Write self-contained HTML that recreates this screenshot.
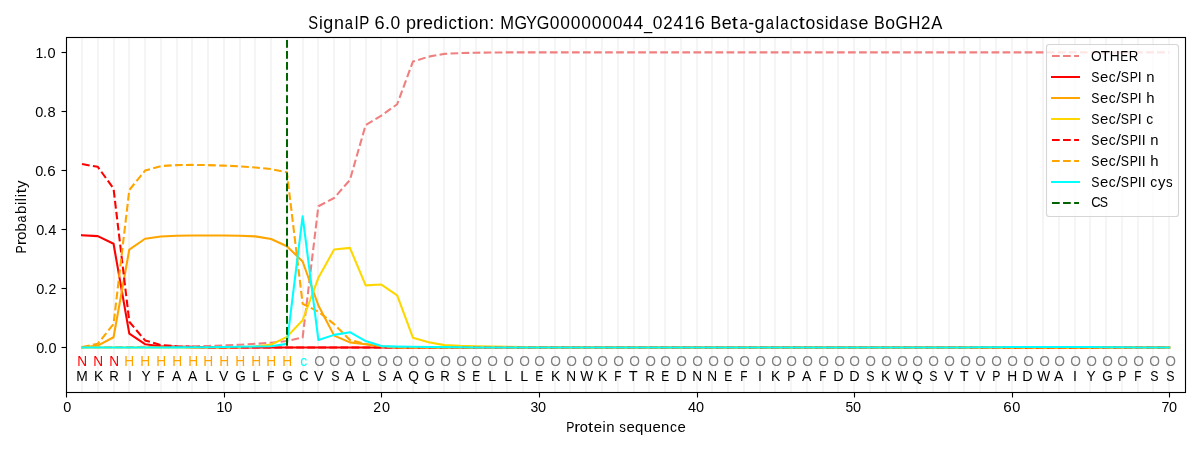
<!DOCTYPE html>
<html><head><meta charset="utf-8"><title>SignalP 6.0 prediction</title>
<style>html,body{margin:0;padding:0;background:#fff}body{width:1200px;height:450px;overflow:hidden;font-family:"Liberation Sans",sans-serif}</style>
</head><body>
<svg width="1200" height="450" viewBox="0 0 1200 450" style="display:block;will-change:transform">
<rect width="1200" height="450" fill="#fff"/>
<g fill="#f5f5f5">
<rect x="81" y="38" width="2" height="354"/>
<rect x="97" y="38" width="2" height="354"/>
<rect x="113" y="38" width="2" height="354"/>
<rect x="128" y="38" width="2" height="354"/>
<rect x="144" y="38" width="2" height="354"/>
<rect x="160" y="38" width="2" height="354"/>
<rect x="176" y="38" width="2" height="354"/>
<rect x="191" y="38" width="2" height="354"/>
<rect x="207" y="38" width="2" height="354"/>
<rect x="223" y="38" width="2" height="354"/>
<rect x="239" y="38" width="2" height="354"/>
<rect x="254" y="38" width="2" height="354"/>
<rect x="270" y="38" width="2" height="354"/>
<rect x="286" y="38" width="2" height="354"/>
<rect x="302" y="38" width="2" height="354"/>
<rect x="317" y="38" width="2" height="354"/>
<rect x="333" y="38" width="2" height="354"/>
<rect x="349" y="38" width="2" height="354"/>
<rect x="365" y="38" width="2" height="354"/>
<rect x="380" y="38" width="2" height="354"/>
<rect x="396" y="38" width="2" height="354"/>
<rect x="412" y="38" width="2" height="354"/>
<rect x="428" y="38" width="2" height="354"/>
<rect x="443" y="38" width="2" height="354"/>
<rect x="459" y="38" width="2" height="354"/>
<rect x="475" y="38" width="2" height="354"/>
<rect x="491" y="38" width="2" height="354"/>
<rect x="506" y="38" width="2" height="354"/>
<rect x="522" y="38" width="2" height="354"/>
<rect x="538" y="38" width="2" height="354"/>
<rect x="554" y="38" width="2" height="354"/>
<rect x="569" y="38" width="2" height="354"/>
<rect x="585" y="38" width="2" height="354"/>
<rect x="601" y="38" width="2" height="354"/>
<rect x="617" y="38" width="2" height="354"/>
<rect x="633" y="38" width="2" height="354"/>
<rect x="648" y="38" width="2" height="354"/>
<rect x="664" y="38" width="2" height="354"/>
<rect x="680" y="38" width="2" height="354"/>
<rect x="696" y="38" width="2" height="354"/>
<rect x="711" y="38" width="2" height="354"/>
<rect x="727" y="38" width="2" height="354"/>
<rect x="743" y="38" width="2" height="354"/>
<rect x="759" y="38" width="2" height="354"/>
<rect x="774" y="38" width="2" height="354"/>
<rect x="790" y="38" width="2" height="354"/>
<rect x="806" y="38" width="2" height="354"/>
<rect x="822" y="38" width="2" height="354"/>
<rect x="837" y="38" width="2" height="354"/>
<rect x="853" y="38" width="2" height="354"/>
<rect x="869" y="38" width="2" height="354"/>
<rect x="885" y="38" width="2" height="354"/>
<rect x="900" y="38" width="2" height="354"/>
<rect x="916" y="38" width="2" height="354"/>
<rect x="932" y="38" width="2" height="354"/>
<rect x="948" y="38" width="2" height="354"/>
<rect x="963" y="38" width="2" height="354"/>
<rect x="979" y="38" width="2" height="354"/>
<rect x="995" y="38" width="2" height="354"/>
<rect x="1011" y="38" width="2" height="354"/>
<rect x="1026" y="38" width="2" height="354"/>
<rect x="1042" y="38" width="2" height="354"/>
<rect x="1058" y="38" width="2" height="354"/>
<rect x="1074" y="38" width="2" height="354"/>
<rect x="1089" y="38" width="2" height="354"/>
<rect x="1105" y="38" width="2" height="354"/>
<rect x="1121" y="38" width="2" height="354"/>
<rect x="1137" y="38" width="2" height="354"/>
<rect x="1152" y="38" width="2" height="354"/>
<rect x="1168" y="38" width="2" height="354"/>
</g>
<polyline points="82.03,347.28 97.79,347.28 113.55,347.13 129.30,347.13 145.06,346.83 160.82,346.83 176.57,346.54 192.33,346.24 208.09,345.95 223.84,345.36 239.60,344.77 255.36,343.82 271.11,342.70 286.87,341.07 302.63,337.53 318.38,206.26 334.14,197.99 349.90,179.97 365.65,125.04 381.41,115.59 397.17,104.22 412.92,61.61 428.68,56.62 444.44,53.87 460.19,53.10 475.95,52.69 491.71,52.54 507.46,52.39 523.22,52.39 538.98,52.39 554.73,52.39 570.49,52.39 586.25,52.39 602.00,52.39 617.76,52.39 633.52,52.39 649.27,52.39 665.03,52.39 680.79,52.39 696.54,52.39 712.30,52.39 728.06,52.39 743.81,52.39 759.57,52.39 775.33,52.39 791.08,52.39 806.84,52.39 822.60,52.39 838.35,52.39 854.11,52.39 869.87,52.39 885.62,52.39 901.38,52.39 917.14,52.39 932.89,52.39 948.65,52.39 964.41,52.39 980.16,52.39 995.92,52.39 1011.68,52.39 1027.43,52.39 1043.19,52.39 1058.95,52.39 1074.70,52.39 1090.46,52.39 1106.22,52.39 1121.97,52.39 1137.73,52.39 1153.49,52.39 1169.24,52.39" fill="none" stroke="#f08080" stroke-width="2.0833" stroke-linejoin="round" stroke-dasharray="7.708 3.333"/>
<polyline points="82.03,235.20 97.79,236.09 113.55,243.76 129.30,333.69 145.06,344.18 160.82,346.24 176.57,346.83 192.33,347.42 208.09,347.42 223.84,347.42 239.60,347.42 255.36,347.42 271.11,347.42 286.87,347.42 302.63,347.42 318.38,347.42 334.14,347.42 349.90,347.42 365.65,347.42 381.41,347.42 397.17,347.42 412.92,347.42 428.68,347.42 444.44,347.42 460.19,347.42 475.95,347.42 491.71,347.42 507.46,347.42 523.22,347.42 538.98,347.42 554.73,347.42 570.49,347.42 586.25,347.42 602.00,347.42 617.76,347.42 633.52,347.42 649.27,347.42 665.03,347.42 680.79,347.42 696.54,347.42 712.30,347.42 728.06,347.42 743.81,347.42 759.57,347.42 775.33,347.42 791.08,347.42 806.84,347.42 822.60,347.42 838.35,347.42 854.11,347.42 869.87,347.42 885.62,347.42 901.38,347.42 917.14,347.42 932.89,347.42 948.65,347.42 964.41,347.42 980.16,347.42 995.92,347.42 1011.68,347.42 1027.43,347.42 1043.19,347.42 1058.95,347.42 1074.70,347.42 1090.46,347.42 1106.22,347.42 1121.97,347.42 1137.73,347.42 1153.49,347.42 1169.24,347.42" fill="none" stroke="#ff0000" stroke-width="2.0833" stroke-linejoin="round" stroke-linecap="square"/>
<polyline points="82.03,347.42 97.79,345.65 113.55,337.21 129.30,249.52 145.06,238.74 160.82,236.47 176.57,235.79 192.33,235.50 208.09,235.50 223.84,235.50 239.60,235.79 255.36,236.38 271.11,239.04 286.87,246.25 302.63,261.48 318.38,305.49 334.14,335.61 349.90,342.40 365.65,344.32 381.41,346.54 397.17,347.42 412.92,347.42 428.68,347.42 444.44,347.42 460.19,347.42 475.95,347.42 491.71,347.42 507.46,347.42 523.22,347.42 538.98,347.42 554.73,347.42 570.49,347.42 586.25,347.42 602.00,347.42 617.76,347.42 633.52,347.42 649.27,347.42 665.03,347.42 680.79,347.42 696.54,347.42 712.30,347.42 728.06,347.42 743.81,347.42 759.57,347.42 775.33,347.42 791.08,347.42 806.84,347.42 822.60,347.42 838.35,347.42 854.11,347.42 869.87,347.42 885.62,347.42 901.38,347.42 917.14,347.42 932.89,347.42 948.65,347.42 964.41,347.42 980.16,347.42 995.92,347.42 1011.68,347.42 1027.43,347.42 1043.19,347.42 1058.95,347.42 1074.70,347.42 1090.46,347.42 1106.22,347.42 1121.97,347.42 1137.73,347.42 1153.49,347.42 1169.24,347.42" fill="none" stroke="#ffa500" stroke-width="2.0833" stroke-linejoin="round" stroke-linecap="square"/>
<polyline points="82.03,347.42 97.79,347.42 113.55,347.42 129.30,347.42 145.06,347.42 160.82,347.42 176.57,347.42 192.33,347.42 208.09,347.42 223.84,347.42 239.60,347.13 255.36,346.54 271.11,344.62 286.87,336.88 302.63,320.25 318.38,277.82 334.14,249.52 349.90,247.90 365.65,285.41 381.41,284.58 397.17,295.45 412.92,337.68 428.68,342.23 444.44,345.12 460.19,345.89 475.95,346.30 491.71,346.63 507.46,346.89 523.22,347.13 538.98,347.28 554.73,347.42 570.49,347.42 586.25,347.42 602.00,347.42 617.76,347.42 633.52,347.42 649.27,347.42 665.03,347.42 680.79,347.42 696.54,347.42 712.30,347.42 728.06,347.42 743.81,347.42 759.57,347.42 775.33,347.42 791.08,347.42 806.84,347.42 822.60,347.42 838.35,347.42 854.11,347.42 869.87,347.42 885.62,347.42 901.38,347.42 917.14,347.42 932.89,347.42 948.65,347.42 964.41,347.42 980.16,347.42 995.92,347.42 1011.68,347.42 1027.43,347.42 1043.19,347.42 1058.95,347.42 1074.70,347.42 1090.46,347.42 1106.22,347.42 1121.97,347.42 1137.73,347.42 1153.49,347.42 1169.24,347.42" fill="none" stroke="#ffd700" stroke-width="2.0833" stroke-linejoin="round" stroke-linecap="square"/>
<polyline points="82.03,164.09 97.79,166.83 113.55,188.63 129.30,321.73 145.06,340.45 160.82,345.06 176.57,346.24 192.33,346.83 208.09,347.42 223.84,347.42 239.60,347.42 255.36,347.42 271.11,347.42 286.87,347.42 302.63,347.42 318.38,347.42 334.14,347.42 349.90,347.42 365.65,347.42 381.41,347.42 397.17,347.42 412.92,347.42 428.68,347.42 444.44,347.42 460.19,347.42 475.95,347.42 491.71,347.42 507.46,347.42 523.22,347.42 538.98,347.42 554.73,347.42 570.49,347.42 586.25,347.42 602.00,347.42 617.76,347.42 633.52,347.42 649.27,347.42 665.03,347.42 680.79,347.42 696.54,347.42 712.30,347.42 728.06,347.42 743.81,347.42 759.57,347.42 775.33,347.42 791.08,347.42 806.84,347.42 822.60,347.42 838.35,347.42 854.11,347.42 869.87,347.42 885.62,347.42 901.38,347.42 917.14,347.42 932.89,347.42 948.65,347.42 964.41,347.42 980.16,347.42 995.92,347.42 1011.68,347.42 1027.43,347.42 1043.19,347.42 1058.95,347.42 1074.70,347.42 1090.46,347.42 1106.22,347.42 1121.97,347.42 1137.73,347.42 1153.49,347.42 1169.24,347.42" fill="none" stroke="#ff0000" stroke-width="2.0833" stroke-linejoin="round" stroke-dasharray="7.708 3.333"/>
<polyline points="82.03,347.13 97.79,343.70 113.55,324.09 129.30,190.02 145.06,170.58 160.82,166.09 176.57,165.09 192.33,164.91 208.09,165.09 223.84,165.59 239.60,166.39 255.36,167.57 271.11,169.11 286.87,172.30 302.63,303.72 318.38,311.69 334.14,324.18 349.90,339.89 365.65,344.03 381.41,346.24 397.17,347.42 412.92,347.42 428.68,347.42 444.44,347.42 460.19,347.42 475.95,347.42 491.71,347.42 507.46,347.42 523.22,347.42 538.98,347.42 554.73,347.42 570.49,347.42 586.25,347.42 602.00,347.42 617.76,347.42 633.52,347.42 649.27,347.42 665.03,347.42 680.79,347.42 696.54,347.42 712.30,347.42 728.06,347.42 743.81,347.42 759.57,347.42 775.33,347.42 791.08,347.42 806.84,347.42 822.60,347.42 838.35,347.42 854.11,347.42 869.87,347.42 885.62,347.42 901.38,347.42 917.14,347.42 932.89,347.42 948.65,347.42 964.41,347.42 980.16,347.42 995.92,347.42 1011.68,347.42 1027.43,347.42 1043.19,347.42 1058.95,347.42 1074.70,347.42 1090.46,347.42 1106.22,347.42 1121.97,347.42 1137.73,347.42 1153.49,347.42 1169.24,347.42" fill="none" stroke="#ffa500" stroke-width="2.0833" stroke-linejoin="round" stroke-dasharray="7.708 3.333"/>
<polyline points="82.03,347.42 97.79,347.42 113.55,347.42 129.30,347.42 145.06,347.42 160.82,347.42 176.57,347.36 192.33,347.31 208.09,347.19 223.84,346.95 239.60,346.71 255.36,346.54 271.11,346.30 286.87,343.88 302.63,216.30 318.38,339.89 334.14,334.87 349.90,332.18 365.65,341.07 381.41,346.09 397.17,346.63 412.92,346.83 428.68,347.01 444.44,347.13 460.19,347.28 475.95,347.42 491.71,347.42 507.46,347.42 523.22,347.42 538.98,347.42 554.73,347.42 570.49,347.42 586.25,347.42 602.00,347.42 617.76,347.42 633.52,347.42 649.27,347.42 665.03,347.42 680.79,347.42 696.54,347.42 712.30,347.42 728.06,347.42 743.81,347.42 759.57,347.42 775.33,347.42 791.08,347.42 806.84,347.42 822.60,347.42 838.35,347.42 854.11,347.42 869.87,347.42 885.62,347.42 901.38,347.42 917.14,347.42 932.89,347.42 948.65,347.42 964.41,347.42 980.16,347.31 995.92,347.19 1011.68,347.07 1027.43,347.07 1043.19,347.07 1058.95,347.07 1074.70,347.07 1090.46,347.07 1106.22,347.19 1121.97,347.31 1137.73,347.42 1153.49,347.42 1169.24,347.42" fill="none" stroke="#00ffff" stroke-width="2.0833" stroke-linejoin="round" stroke-linecap="square"/>
<line x1="287" y1="40" x2="287" y2="347.14" stroke="#006400" stroke-width="2" stroke-dasharray="7.708 3.333"/>
<g font-family="Liberation Sans, sans-serif" font-size="14.58">
<text x="76.24" y="380.96" textLength="11.53" lengthAdjust="spacingAndGlyphs" fill="#000000">M</text>
<text x="77.26" y="366.19" textLength="9.85" lengthAdjust="spacingAndGlyphs" fill="#ff0000">N</text>
<text x="93.93" y="380.96" textLength="9.30" lengthAdjust="spacingAndGlyphs" fill="#000000">K</text>
<text x="93.26" y="366.19" textLength="9.85" lengthAdjust="spacingAndGlyphs" fill="#ff0000">N</text>
<text x="109.13" y="380.96" textLength="9.57" lengthAdjust="spacingAndGlyphs" fill="#000000">R</text>
<text x="109.26" y="366.19" textLength="9.85" lengthAdjust="spacingAndGlyphs" fill="#ff0000">N</text>
<text x="128.05" y="380.96" textLength="3.96" lengthAdjust="spacingAndGlyphs" fill="#000000">I</text>
<text x="124.21" y="366.19" textLength="9.94" lengthAdjust="spacingAndGlyphs" fill="#ffa500">H</text>
<text x="141.54" y="380.96" textLength="9.15" lengthAdjust="spacingAndGlyphs" fill="#000000">Y</text>
<text x="140.21" y="366.19" textLength="9.94" lengthAdjust="spacingAndGlyphs" fill="#ffa500">H</text>
<text x="157.32" y="380.96" textLength="7.24" lengthAdjust="spacingAndGlyphs" fill="#000000">F</text>
<text x="156.21" y="366.19" textLength="9.94" lengthAdjust="spacingAndGlyphs" fill="#ffa500">H</text>
<text x="172.00" y="380.96" textLength="9.33" lengthAdjust="spacingAndGlyphs" fill="#000000">A</text>
<text x="172.21" y="366.19" textLength="9.94" lengthAdjust="spacingAndGlyphs" fill="#ffa500">H</text>
<text x="188.00" y="380.96" textLength="9.33" lengthAdjust="spacingAndGlyphs" fill="#000000">A</text>
<text x="188.21" y="366.19" textLength="9.94" lengthAdjust="spacingAndGlyphs" fill="#ffa500">H</text>
<text x="205.20" y="380.96" textLength="7.90" lengthAdjust="spacingAndGlyphs" fill="#000000">L</text>
<text x="203.21" y="366.19" textLength="9.94" lengthAdjust="spacingAndGlyphs" fill="#ffa500">H</text>
<text x="218.96" y="380.96" textLength="9.40" lengthAdjust="spacingAndGlyphs" fill="#000000">V</text>
<text x="219.21" y="366.19" textLength="9.94" lengthAdjust="spacingAndGlyphs" fill="#ffa500">H</text>
<text x="235.16" y="380.96" textLength="10.56" lengthAdjust="spacingAndGlyphs" fill="#000000">G</text>
<text x="235.21" y="366.19" textLength="9.94" lengthAdjust="spacingAndGlyphs" fill="#ffa500">H</text>
<text x="252.20" y="380.96" textLength="7.90" lengthAdjust="spacingAndGlyphs" fill="#000000">L</text>
<text x="251.21" y="366.19" textLength="9.94" lengthAdjust="spacingAndGlyphs" fill="#ffa500">H</text>
<text x="267.32" y="380.96" textLength="7.24" lengthAdjust="spacingAndGlyphs" fill="#000000">F</text>
<text x="266.21" y="366.19" textLength="9.94" lengthAdjust="spacingAndGlyphs" fill="#ffa500">H</text>
<text x="282.16" y="380.96" textLength="10.56" lengthAdjust="spacingAndGlyphs" fill="#000000">G</text>
<text x="282.21" y="366.19" textLength="9.94" lengthAdjust="spacingAndGlyphs" fill="#ffa500">H</text>
<text x="299.18" y="380.96" textLength="9.32" lengthAdjust="spacingAndGlyphs" fill="#000000">C</text>
<text x="300.13" y="366.19" textLength="6.98" lengthAdjust="spacingAndGlyphs" fill="#00ffff">c</text>
<text x="313.96" y="380.96" textLength="9.40" lengthAdjust="spacingAndGlyphs" fill="#000000">V</text>
<text x="314.18" y="366.19" textLength="10.69" lengthAdjust="spacingAndGlyphs" fill="#808080">O</text>
<text x="331.33" y="380.96" textLength="8.26" lengthAdjust="spacingAndGlyphs" fill="#000000">S</text>
<text x="329.18" y="366.19" textLength="10.69" lengthAdjust="spacingAndGlyphs" fill="#808080">O</text>
<text x="345.00" y="380.96" textLength="9.33" lengthAdjust="spacingAndGlyphs" fill="#000000">A</text>
<text x="345.18" y="366.19" textLength="10.69" lengthAdjust="spacingAndGlyphs" fill="#808080">O</text>
<text x="362.20" y="380.96" textLength="7.90" lengthAdjust="spacingAndGlyphs" fill="#000000">L</text>
<text x="361.18" y="366.19" textLength="10.69" lengthAdjust="spacingAndGlyphs" fill="#808080">O</text>
<text x="378.33" y="380.96" textLength="8.26" lengthAdjust="spacingAndGlyphs" fill="#000000">S</text>
<text x="377.18" y="366.19" textLength="10.69" lengthAdjust="spacingAndGlyphs" fill="#808080">O</text>
<text x="393.00" y="380.96" textLength="9.33" lengthAdjust="spacingAndGlyphs" fill="#000000">A</text>
<text x="392.18" y="366.19" textLength="10.69" lengthAdjust="spacingAndGlyphs" fill="#808080">O</text>
<text x="408.18" y="380.96" textLength="10.69" lengthAdjust="spacingAndGlyphs" fill="#000000">Q</text>
<text x="408.18" y="366.19" textLength="10.69" lengthAdjust="spacingAndGlyphs" fill="#808080">O</text>
<text x="424.16" y="380.96" textLength="10.56" lengthAdjust="spacingAndGlyphs" fill="#000000">G</text>
<text x="424.18" y="366.19" textLength="10.69" lengthAdjust="spacingAndGlyphs" fill="#808080">O</text>
<text x="440.13" y="380.96" textLength="9.57" lengthAdjust="spacingAndGlyphs" fill="#000000">R</text>
<text x="440.18" y="366.19" textLength="10.69" lengthAdjust="spacingAndGlyphs" fill="#808080">O</text>
<text x="457.33" y="380.96" textLength="8.26" lengthAdjust="spacingAndGlyphs" fill="#000000">S</text>
<text x="456.18" y="366.19" textLength="10.69" lengthAdjust="spacingAndGlyphs" fill="#808080">O</text>
<text x="472.37" y="380.96" textLength="8.03" lengthAdjust="spacingAndGlyphs" fill="#000000">E</text>
<text x="471.18" y="366.19" textLength="10.69" lengthAdjust="spacingAndGlyphs" fill="#808080">O</text>
<text x="488.20" y="380.96" textLength="7.90" lengthAdjust="spacingAndGlyphs" fill="#000000">L</text>
<text x="487.18" y="366.19" textLength="10.69" lengthAdjust="spacingAndGlyphs" fill="#808080">O</text>
<text x="504.20" y="380.96" textLength="7.90" lengthAdjust="spacingAndGlyphs" fill="#000000">L</text>
<text x="503.18" y="366.19" textLength="10.69" lengthAdjust="spacingAndGlyphs" fill="#808080">O</text>
<text x="520.20" y="380.96" textLength="7.90" lengthAdjust="spacingAndGlyphs" fill="#000000">L</text>
<text x="519.18" y="366.19" textLength="10.69" lengthAdjust="spacingAndGlyphs" fill="#808080">O</text>
<text x="535.37" y="380.96" textLength="8.03" lengthAdjust="spacingAndGlyphs" fill="#000000">E</text>
<text x="534.18" y="366.19" textLength="10.69" lengthAdjust="spacingAndGlyphs" fill="#808080">O</text>
<text x="550.93" y="380.96" textLength="9.30" lengthAdjust="spacingAndGlyphs" fill="#000000">K</text>
<text x="550.18" y="366.19" textLength="10.69" lengthAdjust="spacingAndGlyphs" fill="#808080">O</text>
<text x="566.26" y="380.96" textLength="9.85" lengthAdjust="spacingAndGlyphs" fill="#000000">N</text>
<text x="566.18" y="366.19" textLength="10.69" lengthAdjust="spacingAndGlyphs" fill="#808080">O</text>
<text x="580.34" y="380.96" textLength="12.90" lengthAdjust="spacingAndGlyphs" fill="#000000">W</text>
<text x="582.18" y="366.19" textLength="10.69" lengthAdjust="spacingAndGlyphs" fill="#808080">O</text>
<text x="597.93" y="380.96" textLength="9.30" lengthAdjust="spacingAndGlyphs" fill="#000000">K</text>
<text x="597.18" y="366.19" textLength="10.69" lengthAdjust="spacingAndGlyphs" fill="#808080">O</text>
<text x="614.32" y="380.96" textLength="7.24" lengthAdjust="spacingAndGlyphs" fill="#000000">F</text>
<text x="613.18" y="366.19" textLength="10.69" lengthAdjust="spacingAndGlyphs" fill="#808080">O</text>
<text x="628.80" y="380.96" textLength="8.91" lengthAdjust="spacingAndGlyphs" fill="#000000">T</text>
<text x="629.18" y="366.19" textLength="10.69" lengthAdjust="spacingAndGlyphs" fill="#808080">O</text>
<text x="645.13" y="380.96" textLength="9.57" lengthAdjust="spacingAndGlyphs" fill="#000000">R</text>
<text x="645.18" y="366.19" textLength="10.69" lengthAdjust="spacingAndGlyphs" fill="#808080">O</text>
<text x="661.37" y="380.96" textLength="8.03" lengthAdjust="spacingAndGlyphs" fill="#000000">E</text>
<text x="660.18" y="366.19" textLength="10.69" lengthAdjust="spacingAndGlyphs" fill="#808080">O</text>
<text x="676.19" y="380.96" textLength="10.37" lengthAdjust="spacingAndGlyphs" fill="#000000">D</text>
<text x="676.18" y="366.19" textLength="10.69" lengthAdjust="spacingAndGlyphs" fill="#808080">O</text>
<text x="692.26" y="380.96" textLength="9.85" lengthAdjust="spacingAndGlyphs" fill="#000000">N</text>
<text x="692.18" y="366.19" textLength="10.69" lengthAdjust="spacingAndGlyphs" fill="#808080">O</text>
<text x="707.26" y="380.96" textLength="9.85" lengthAdjust="spacingAndGlyphs" fill="#000000">N</text>
<text x="708.18" y="366.19" textLength="10.69" lengthAdjust="spacingAndGlyphs" fill="#808080">O</text>
<text x="724.37" y="380.96" textLength="8.03" lengthAdjust="spacingAndGlyphs" fill="#000000">E</text>
<text x="723.18" y="366.19" textLength="10.69" lengthAdjust="spacingAndGlyphs" fill="#808080">O</text>
<text x="740.32" y="380.96" textLength="7.24" lengthAdjust="spacingAndGlyphs" fill="#000000">F</text>
<text x="739.18" y="366.19" textLength="10.69" lengthAdjust="spacingAndGlyphs" fill="#808080">O</text>
<text x="758.05" y="380.96" textLength="3.96" lengthAdjust="spacingAndGlyphs" fill="#000000">I</text>
<text x="755.18" y="366.19" textLength="10.69" lengthAdjust="spacingAndGlyphs" fill="#808080">O</text>
<text x="770.93" y="380.96" textLength="9.30" lengthAdjust="spacingAndGlyphs" fill="#000000">K</text>
<text x="771.18" y="366.19" textLength="10.69" lengthAdjust="spacingAndGlyphs" fill="#808080">O</text>
<text x="787.33" y="380.96" textLength="8.18" lengthAdjust="spacingAndGlyphs" fill="#000000">P</text>
<text x="786.18" y="366.19" textLength="10.69" lengthAdjust="spacingAndGlyphs" fill="#808080">O</text>
<text x="802.00" y="380.96" textLength="9.33" lengthAdjust="spacingAndGlyphs" fill="#000000">A</text>
<text x="802.18" y="366.19" textLength="10.69" lengthAdjust="spacingAndGlyphs" fill="#808080">O</text>
<text x="819.32" y="380.96" textLength="7.24" lengthAdjust="spacingAndGlyphs" fill="#000000">F</text>
<text x="818.18" y="366.19" textLength="10.69" lengthAdjust="spacingAndGlyphs" fill="#808080">O</text>
<text x="833.19" y="380.96" textLength="10.37" lengthAdjust="spacingAndGlyphs" fill="#000000">D</text>
<text x="834.18" y="366.19" textLength="10.69" lengthAdjust="spacingAndGlyphs" fill="#808080">O</text>
<text x="849.19" y="380.96" textLength="10.37" lengthAdjust="spacingAndGlyphs" fill="#000000">D</text>
<text x="849.18" y="366.19" textLength="10.69" lengthAdjust="spacingAndGlyphs" fill="#808080">O</text>
<text x="866.33" y="380.96" textLength="8.26" lengthAdjust="spacingAndGlyphs" fill="#000000">S</text>
<text x="865.18" y="366.19" textLength="10.69" lengthAdjust="spacingAndGlyphs" fill="#808080">O</text>
<text x="880.93" y="380.96" textLength="9.30" lengthAdjust="spacingAndGlyphs" fill="#000000">K</text>
<text x="881.18" y="366.19" textLength="10.69" lengthAdjust="spacingAndGlyphs" fill="#808080">O</text>
<text x="895.34" y="380.96" textLength="12.90" lengthAdjust="spacingAndGlyphs" fill="#000000">W</text>
<text x="897.18" y="366.19" textLength="10.69" lengthAdjust="spacingAndGlyphs" fill="#808080">O</text>
<text x="912.18" y="380.96" textLength="10.69" lengthAdjust="spacingAndGlyphs" fill="#000000">Q</text>
<text x="912.18" y="366.19" textLength="10.69" lengthAdjust="spacingAndGlyphs" fill="#808080">O</text>
<text x="929.33" y="380.96" textLength="8.26" lengthAdjust="spacingAndGlyphs" fill="#000000">S</text>
<text x="928.18" y="366.19" textLength="10.69" lengthAdjust="spacingAndGlyphs" fill="#808080">O</text>
<text x="943.96" y="380.96" textLength="9.40" lengthAdjust="spacingAndGlyphs" fill="#000000">V</text>
<text x="944.18" y="366.19" textLength="10.69" lengthAdjust="spacingAndGlyphs" fill="#808080">O</text>
<text x="959.80" y="380.96" textLength="8.91" lengthAdjust="spacingAndGlyphs" fill="#000000">T</text>
<text x="960.18" y="366.19" textLength="10.69" lengthAdjust="spacingAndGlyphs" fill="#808080">O</text>
<text x="975.96" y="380.96" textLength="9.40" lengthAdjust="spacingAndGlyphs" fill="#000000">V</text>
<text x="975.18" y="366.19" textLength="10.69" lengthAdjust="spacingAndGlyphs" fill="#808080">O</text>
<text x="992.33" y="380.96" textLength="8.18" lengthAdjust="spacingAndGlyphs" fill="#000000">P</text>
<text x="991.18" y="366.19" textLength="10.69" lengthAdjust="spacingAndGlyphs" fill="#808080">O</text>
<text x="1007.21" y="380.96" textLength="9.94" lengthAdjust="spacingAndGlyphs" fill="#000000">H</text>
<text x="1007.18" y="366.19" textLength="10.69" lengthAdjust="spacingAndGlyphs" fill="#808080">O</text>
<text x="1022.19" y="380.96" textLength="10.37" lengthAdjust="spacingAndGlyphs" fill="#000000">D</text>
<text x="1023.18" y="366.19" textLength="10.69" lengthAdjust="spacingAndGlyphs" fill="#808080">O</text>
<text x="1037.34" y="380.96" textLength="12.90" lengthAdjust="spacingAndGlyphs" fill="#000000">W</text>
<text x="1039.18" y="366.19" textLength="10.69" lengthAdjust="spacingAndGlyphs" fill="#808080">O</text>
<text x="1054.00" y="380.96" textLength="9.33" lengthAdjust="spacingAndGlyphs" fill="#000000">A</text>
<text x="1054.18" y="366.19" textLength="10.69" lengthAdjust="spacingAndGlyphs" fill="#808080">O</text>
<text x="1073.05" y="380.96" textLength="3.96" lengthAdjust="spacingAndGlyphs" fill="#000000">I</text>
<text x="1070.18" y="366.19" textLength="10.69" lengthAdjust="spacingAndGlyphs" fill="#808080">O</text>
<text x="1086.54" y="380.96" textLength="9.15" lengthAdjust="spacingAndGlyphs" fill="#000000">Y</text>
<text x="1086.18" y="366.19" textLength="10.69" lengthAdjust="spacingAndGlyphs" fill="#808080">O</text>
<text x="1102.16" y="380.96" textLength="10.56" lengthAdjust="spacingAndGlyphs" fill="#000000">G</text>
<text x="1102.18" y="366.19" textLength="10.69" lengthAdjust="spacingAndGlyphs" fill="#808080">O</text>
<text x="1118.33" y="380.96" textLength="8.18" lengthAdjust="spacingAndGlyphs" fill="#000000">P</text>
<text x="1117.18" y="366.19" textLength="10.69" lengthAdjust="spacingAndGlyphs" fill="#808080">O</text>
<text x="1134.32" y="380.96" textLength="7.24" lengthAdjust="spacingAndGlyphs" fill="#000000">F</text>
<text x="1133.18" y="366.19" textLength="10.69" lengthAdjust="spacingAndGlyphs" fill="#808080">O</text>
<text x="1150.33" y="380.96" textLength="8.26" lengthAdjust="spacingAndGlyphs" fill="#000000">S</text>
<text x="1149.18" y="366.19" textLength="10.69" lengthAdjust="spacingAndGlyphs" fill="#808080">O</text>
<text x="1166.33" y="380.96" textLength="8.26" lengthAdjust="spacingAndGlyphs" fill="#000000">S</text>
<text x="1165.18" y="366.19" textLength="10.69" lengthAdjust="spacingAndGlyphs" fill="#808080">O</text>
</g>
<rect x="66.5" y="37.5" width="1119" height="355" fill="none" stroke="#000" stroke-width="1.11"/>
<g stroke="#000" stroke-width="1.11">
<line x1="66.5" y1="392" x2="66.5" y2="397.5"/>
<line x1="224.5" y1="392" x2="224.5" y2="397.5"/>
<line x1="381.5" y1="392" x2="381.5" y2="397.5"/>
<line x1="539.5" y1="392" x2="539.5" y2="397.5"/>
<line x1="697.5" y1="392" x2="697.5" y2="397.5"/>
<line x1="854.5" y1="392" x2="854.5" y2="397.5"/>
<line x1="1012.5" y1="392" x2="1012.5" y2="397.5"/>
<line x1="1169.5" y1="392" x2="1169.5" y2="397.5"/>
<line x1="61.5" y1="347.5" x2="67" y2="347.5"/>
<line x1="61.5" y1="288.5" x2="67" y2="288.5"/>
<line x1="61.5" y1="229.5" x2="67" y2="229.5"/>
<line x1="61.5" y1="170.5" x2="67" y2="170.5"/>
<line x1="61.5" y1="111.5" x2="67" y2="111.5"/>
<line x1="61.5" y1="52.5" x2="67" y2="52.5"/>
</g>
<g font-family="Liberation Sans, sans-serif" fill="#000">
<text y="412.44" font-size="14.58"><tspan x="63.25" textLength="8.05" lengthAdjust="spacingAndGlyphs">0</tspan></text>
<text y="412.44" font-size="14.58"><tspan x="216.47" textLength="7.79" lengthAdjust="spacingAndGlyphs">1</tspan><tspan x="224.20" textLength="8.10" lengthAdjust="spacingAndGlyphs">0</tspan></text>
<text y="412.44" font-size="14.58"><tspan x="373.21" textLength="7.77" lengthAdjust="spacingAndGlyphs">2</tspan><tspan x="382.01" textLength="8.05" lengthAdjust="spacingAndGlyphs">0</tspan></text>
<text y="412.44" font-size="14.58"><tspan x="530.48" textLength="7.77" lengthAdjust="spacingAndGlyphs">3</tspan><tspan x="538.08" textLength="8.05" lengthAdjust="spacingAndGlyphs">0</tspan></text>
<text y="412.44" font-size="14.58"><tspan x="688.12" textLength="8.10" lengthAdjust="spacingAndGlyphs">4</tspan><tspan x="695.90" textLength="8.05" lengthAdjust="spacingAndGlyphs">0</tspan></text>
<text y="412.44" font-size="14.58"><tspan x="845.59" textLength="7.65" lengthAdjust="spacingAndGlyphs">5</tspan><tspan x="852.96" textLength="8.05" lengthAdjust="spacingAndGlyphs">0</tspan></text>
<text y="412.44" font-size="14.58"><tspan x="1003.29" textLength="8.45" lengthAdjust="spacingAndGlyphs">6</tspan><tspan x="1012.28" textLength="8.10" lengthAdjust="spacingAndGlyphs">0</tspan></text>
<text y="412.44" font-size="14.58"><tspan x="1161.38" textLength="7.90" lengthAdjust="spacingAndGlyphs">7</tspan><tspan x="1169.09" textLength="8.05" lengthAdjust="spacingAndGlyphs">0</tspan></text>
<text y="352.92" font-size="14.58"><tspan x="36.28" textLength="8.05" lengthAdjust="spacingAndGlyphs">0</tspan><tspan x="43.79" textLength="4.12" lengthAdjust="spacingAndGlyphs">.</tspan><tspan x="48.41" textLength="8.05" lengthAdjust="spacingAndGlyphs">0</tspan></text>
<text y="293.86" font-size="14.58"><tspan x="36.28" textLength="8.05" lengthAdjust="spacingAndGlyphs">0</tspan><tspan x="44.04" textLength="4.12" lengthAdjust="spacingAndGlyphs">.</tspan><tspan x="48.60" textLength="7.78" lengthAdjust="spacingAndGlyphs">2</tspan></text>
<text y="234.79" font-size="14.58"><tspan x="36.28" textLength="8.05" lengthAdjust="spacingAndGlyphs">0</tspan><tspan x="43.79" textLength="4.12" lengthAdjust="spacingAndGlyphs">.</tspan><tspan x="48.13" textLength="8.10" lengthAdjust="spacingAndGlyphs">4</tspan></text>
<text y="175.73" font-size="14.58"><tspan x="35.16" textLength="8.09" lengthAdjust="spacingAndGlyphs">0</tspan><tspan x="42.72" textLength="4.14" lengthAdjust="spacingAndGlyphs">.</tspan><tspan x="47.18" textLength="8.44" lengthAdjust="spacingAndGlyphs">6</tspan></text>
<text y="116.66" font-size="14.58"><tspan x="35.16" textLength="8.09" lengthAdjust="spacingAndGlyphs">0</tspan><tspan x="42.97" textLength="4.14" lengthAdjust="spacingAndGlyphs">.</tspan><tspan x="47.56" textLength="8.18" lengthAdjust="spacingAndGlyphs">8</tspan></text>
<text y="57.60" font-size="14.58"><tspan x="35.49" textLength="7.78" lengthAdjust="spacingAndGlyphs">1</tspan><tspan x="42.97" textLength="4.14" lengthAdjust="spacingAndGlyphs">.</tspan><tspan x="47.61" textLength="8.09" lengthAdjust="spacingAndGlyphs">0</tspan></text>
<text y="432.00" font-size="14.58"><tspan x="566.14" textLength="8.16" lengthAdjust="spacingAndGlyphs">P</tspan><tspan x="574.22" textLength="5.89" lengthAdjust="spacingAndGlyphs">r</tspan><tspan x="579.75" textLength="8.15" lengthAdjust="spacingAndGlyphs">o</tspan><tspan x="588.11" textLength="5.07" lengthAdjust="spacingAndGlyphs">t</tspan><tspan x="593.81" textLength="8.32" lengthAdjust="spacingAndGlyphs">e</tspan><tspan x="602.56" textLength="3.16" lengthAdjust="spacingAndGlyphs">i</tspan><tspan x="606.33" textLength="8.29" lengthAdjust="spacingAndGlyphs">n</tspan> <tspan x="619.35" textLength="6.65" lengthAdjust="spacingAndGlyphs">s</tspan><tspan x="626.59" textLength="8.32" lengthAdjust="spacingAndGlyphs">e</tspan><tspan x="634.90" textLength="8.35" lengthAdjust="spacingAndGlyphs">q</tspan><tspan x="643.74" textLength="8.34" lengthAdjust="spacingAndGlyphs">u</tspan><tspan x="652.44" textLength="8.32" lengthAdjust="spacingAndGlyphs">e</tspan><tspan x="661.12" textLength="8.29" lengthAdjust="spacingAndGlyphs">n</tspan><tspan x="670.04" textLength="6.97" lengthAdjust="spacingAndGlyphs">c</tspan><tspan x="677.62" textLength="8.32" lengthAdjust="spacingAndGlyphs">e</tspan></text>
<text y="29.00" font-size="17.50"><tspan x="308.24" textLength="9.86" lengthAdjust="spacingAndGlyphs">S</tspan><tspan x="319.03" textLength="3.79" lengthAdjust="spacingAndGlyphs">i</tspan><tspan x="323.15" textLength="9.99" lengthAdjust="spacingAndGlyphs">g</tspan><tspan x="334.06" textLength="9.92" lengthAdjust="spacingAndGlyphs">n</tspan><tspan x="344.85" textLength="8.28" lengthAdjust="spacingAndGlyphs">a</tspan><tspan x="354.86" textLength="3.68" lengthAdjust="spacingAndGlyphs">l</tspan><tspan x="359.20" textLength="9.77" lengthAdjust="spacingAndGlyphs">P</tspan> <tspan x="374.49" textLength="10.12" lengthAdjust="spacingAndGlyphs">6</tspan><tspan x="384.96" textLength="4.96" lengthAdjust="spacingAndGlyphs">.</tspan><tspan x="390.52" textLength="9.70" lengthAdjust="spacingAndGlyphs">0</tspan> <tspan x="406.03" textLength="10.04" lengthAdjust="spacingAndGlyphs">p</tspan><tspan x="416.05" textLength="7.05" lengthAdjust="spacingAndGlyphs">r</tspan><tspan x="422.91" textLength="9.96" lengthAdjust="spacingAndGlyphs">e</tspan><tspan x="433.29" textLength="9.99" lengthAdjust="spacingAndGlyphs">d</tspan><tspan x="444.04" textLength="3.79" lengthAdjust="spacingAndGlyphs">i</tspan><tspan x="448.43" textLength="8.34" lengthAdjust="spacingAndGlyphs">c</tspan><tspan x="457.22" textLength="6.08" lengthAdjust="spacingAndGlyphs">t</tspan><tspan x="464.27" textLength="3.79" lengthAdjust="spacingAndGlyphs">i</tspan><tspan x="468.41" textLength="9.76" lengthAdjust="spacingAndGlyphs">o</tspan><tspan x="478.67" textLength="9.92" lengthAdjust="spacingAndGlyphs">n</tspan><tspan x="489.36" textLength="5.08" lengthAdjust="spacingAndGlyphs">:</tspan> <tspan x="500.25" textLength="13.76" lengthAdjust="spacingAndGlyphs">M</tspan><tspan x="514.61" textLength="12.60" lengthAdjust="spacingAndGlyphs">G</tspan><tspan x="526.03" textLength="10.93" lengthAdjust="spacingAndGlyphs">Y</tspan><tspan x="536.76" textLength="12.60" lengthAdjust="spacingAndGlyphs">G</tspan><tspan x="549.68" textLength="9.70" lengthAdjust="spacingAndGlyphs">0</tspan><tspan x="560.23" textLength="9.70" lengthAdjust="spacingAndGlyphs">0</tspan><tspan x="570.78" textLength="9.70" lengthAdjust="spacingAndGlyphs">0</tspan><tspan x="581.33" textLength="9.70" lengthAdjust="spacingAndGlyphs">0</tspan><tspan x="591.63" textLength="9.70" lengthAdjust="spacingAndGlyphs">0</tspan><tspan x="602.18" textLength="9.70" lengthAdjust="spacingAndGlyphs">0</tspan><tspan x="612.73" textLength="9.70" lengthAdjust="spacingAndGlyphs">0</tspan><tspan x="623.00" textLength="9.77" lengthAdjust="spacingAndGlyphs">4</tspan><tspan x="633.55" textLength="9.77" lengthAdjust="spacingAndGlyphs">4</tspan><tspan x="643.95" textLength="8.20" lengthAdjust="spacingAndGlyphs">_</tspan><tspan x="652.67" textLength="9.70" lengthAdjust="spacingAndGlyphs">0</tspan><tspan x="663.15" textLength="9.37" lengthAdjust="spacingAndGlyphs">2</tspan><tspan x="673.48" textLength="9.77" lengthAdjust="spacingAndGlyphs">4</tspan><tspan x="684.41" textLength="9.33" lengthAdjust="spacingAndGlyphs">1</tspan><tspan x="694.65" textLength="10.12" lengthAdjust="spacingAndGlyphs">6</tspan> <tspan x="710.58" textLength="10.75" lengthAdjust="spacingAndGlyphs">B</tspan><tspan x="721.78" textLength="9.96" lengthAdjust="spacingAndGlyphs">e</tspan><tspan x="731.71" textLength="6.08" lengthAdjust="spacingAndGlyphs">t</tspan><tspan x="739.45" textLength="8.28" lengthAdjust="spacingAndGlyphs">a</tspan><tspan x="748.28" textLength="5.91" lengthAdjust="spacingAndGlyphs">-</tspan><tspan x="754.42" textLength="9.99" lengthAdjust="spacingAndGlyphs">g</tspan><tspan x="765.86" textLength="8.28" lengthAdjust="spacingAndGlyphs">a</tspan><tspan x="775.62" textLength="3.68" lengthAdjust="spacingAndGlyphs">l</tspan><tspan x="780.13" textLength="8.28" lengthAdjust="spacingAndGlyphs">a</tspan><tspan x="789.88" textLength="8.34" lengthAdjust="spacingAndGlyphs">c</tspan><tspan x="798.67" textLength="6.08" lengthAdjust="spacingAndGlyphs">t</tspan><tspan x="805.51" textLength="9.76" lengthAdjust="spacingAndGlyphs">o</tspan><tspan x="816.12" textLength="7.96" lengthAdjust="spacingAndGlyphs">s</tspan><tspan x="824.75" textLength="3.79" lengthAdjust="spacingAndGlyphs">i</tspan><tspan x="829.13" textLength="9.99" lengthAdjust="spacingAndGlyphs">d</tspan><tspan x="840.32" textLength="8.28" lengthAdjust="spacingAndGlyphs">a</tspan><tspan x="849.80" textLength="7.96" lengthAdjust="spacingAndGlyphs">s</tspan><tspan x="858.41" textLength="9.96" lengthAdjust="spacingAndGlyphs">e</tspan> <tspan x="874.05" textLength="10.75" lengthAdjust="spacingAndGlyphs">B</tspan><tspan x="885.31" textLength="9.76" lengthAdjust="spacingAndGlyphs">o</tspan><tspan x="895.60" textLength="12.60" lengthAdjust="spacingAndGlyphs">G</tspan><tspan x="908.40" textLength="11.87" lengthAdjust="spacingAndGlyphs">H</tspan><tspan x="920.92" textLength="9.37" lengthAdjust="spacingAndGlyphs">2</tspan><tspan x="931.23" textLength="11.14" lengthAdjust="spacingAndGlyphs">A</tspan></text>
<text transform="translate(25.70,253.87) rotate(-90)" y="0" font-size="14.58"><tspan x="0.38" textLength="8.23" lengthAdjust="spacingAndGlyphs">P</tspan><tspan x="8.53" textLength="5.94" lengthAdjust="spacingAndGlyphs">r</tspan><tspan x="14.11" textLength="8.22" lengthAdjust="spacingAndGlyphs">o</tspan><tspan x="22.48" textLength="8.46" lengthAdjust="spacingAndGlyphs">b</tspan><tspan x="31.35" textLength="6.98" lengthAdjust="spacingAndGlyphs">a</tspan><tspan x="39.91" textLength="8.46" lengthAdjust="spacingAndGlyphs">b</tspan><tspan x="48.84" textLength="3.19" lengthAdjust="spacingAndGlyphs">i</tspan><tspan x="52.74" textLength="3.11" lengthAdjust="spacingAndGlyphs">l</tspan><tspan x="56.60" textLength="3.19" lengthAdjust="spacingAndGlyphs">i</tspan><tspan x="60.26" textLength="5.07" lengthAdjust="spacingAndGlyphs">t</tspan><tspan x="65.95" textLength="7.51" lengthAdjust="spacingAndGlyphs">y</tspan></text>
</g>
<rect x="1046.5" y="44.5" width="132" height="172" rx="2.8" ry="2.8" fill="#fff" fill-opacity="0.8" stroke="#ccc" stroke-opacity="0.8" stroke-width="1.11"/>
<line x1="1052.0" y1="56" x2="1079.0" y2="56" stroke="#f08080" stroke-width="2" stroke-dasharray="7.708 3.333"/>
<line x1="1051.0" y1="77" x2="1080.0" y2="77" stroke="#ff0000" stroke-width="2"/>
<line x1="1051.0" y1="98" x2="1080.0" y2="98" stroke="#ffa500" stroke-width="2"/>
<line x1="1051.0" y1="119" x2="1080.0" y2="119" stroke="#ffd700" stroke-width="2"/>
<line x1="1052.0" y1="140" x2="1079.0" y2="140" stroke="#ff0000" stroke-width="2" stroke-dasharray="7.708 3.333"/>
<line x1="1052.0" y1="161" x2="1079.0" y2="161" stroke="#ffa500" stroke-width="2" stroke-dasharray="7.708 3.333"/>
<line x1="1051.0" y1="182" x2="1080.0" y2="182" stroke="#00ffff" stroke-width="2"/>
<line x1="1052.0" y1="203" x2="1079.0" y2="203" stroke="#006400" stroke-width="2" stroke-dasharray="7.708 3.333"/>
<g font-family="Liberation Sans, sans-serif" fill="#000">
<text y="60.83" font-size="14.58"><tspan x="1090.90" textLength="10.65" lengthAdjust="spacingAndGlyphs">O</tspan><tspan x="1100.84" textLength="9.20" lengthAdjust="spacingAndGlyphs">T</tspan><tspan x="1109.85" textLength="9.91" lengthAdjust="spacingAndGlyphs">H</tspan><tspan x="1120.15" textLength="8.00" lengthAdjust="spacingAndGlyphs">E</tspan><tspan x="1128.80" textLength="9.54" lengthAdjust="spacingAndGlyphs">R</tspan></text>
<text y="81.78" font-size="14.58"><tspan x="1091.34" textLength="8.21" lengthAdjust="spacingAndGlyphs">S</tspan><tspan x="1100.13" textLength="8.28" lengthAdjust="spacingAndGlyphs">e</tspan><tspan x="1108.66" textLength="6.94" lengthAdjust="spacingAndGlyphs">c</tspan><tspan x="1116.33" textLength="4.62" lengthAdjust="spacingAndGlyphs">/</tspan><tspan x="1120.82" textLength="8.21" lengthAdjust="spacingAndGlyphs">S</tspan><tspan x="1129.85" textLength="8.13" lengthAdjust="spacingAndGlyphs">P</tspan><tspan x="1137.87" textLength="3.93" lengthAdjust="spacingAndGlyphs">I</tspan> <tspan x="1146.28" textLength="8.26" lengthAdjust="spacingAndGlyphs">n</tspan></text>
<text y="102.72" font-size="14.58"><tspan x="1091.34" textLength="8.21" lengthAdjust="spacingAndGlyphs">S</tspan><tspan x="1100.13" textLength="8.28" lengthAdjust="spacingAndGlyphs">e</tspan><tspan x="1108.66" textLength="6.94" lengthAdjust="spacingAndGlyphs">c</tspan><tspan x="1116.33" textLength="4.62" lengthAdjust="spacingAndGlyphs">/</tspan><tspan x="1120.82" textLength="8.21" lengthAdjust="spacingAndGlyphs">S</tspan><tspan x="1129.85" textLength="8.13" lengthAdjust="spacingAndGlyphs">P</tspan><tspan x="1137.87" textLength="3.93" lengthAdjust="spacingAndGlyphs">I</tspan> <tspan x="1146.24" textLength="8.30" lengthAdjust="spacingAndGlyphs">h</tspan></text>
<text y="123.67" font-size="14.58"><tspan x="1091.34" textLength="8.21" lengthAdjust="spacingAndGlyphs">S</tspan><tspan x="1100.14" textLength="8.29" lengthAdjust="spacingAndGlyphs">e</tspan><tspan x="1108.67" textLength="6.94" lengthAdjust="spacingAndGlyphs">c</tspan><tspan x="1116.34" textLength="4.62" lengthAdjust="spacingAndGlyphs">/</tspan><tspan x="1120.84" textLength="8.21" lengthAdjust="spacingAndGlyphs">S</tspan><tspan x="1129.62" textLength="8.13" lengthAdjust="spacingAndGlyphs">P</tspan><tspan x="1137.65" textLength="3.93" lengthAdjust="spacingAndGlyphs">I</tspan> <tspan x="1146.20" textLength="6.94" lengthAdjust="spacingAndGlyphs">c</tspan></text>
<text y="144.61" font-size="14.58"><tspan x="1091.34" textLength="8.20" lengthAdjust="spacingAndGlyphs">S</tspan><tspan x="1100.12" textLength="8.28" lengthAdjust="spacingAndGlyphs">e</tspan><tspan x="1108.65" textLength="6.93" lengthAdjust="spacingAndGlyphs">c</tspan><tspan x="1116.30" textLength="4.62" lengthAdjust="spacingAndGlyphs">/</tspan><tspan x="1120.79" textLength="8.20" lengthAdjust="spacingAndGlyphs">S</tspan><tspan x="1129.81" textLength="8.12" lengthAdjust="spacingAndGlyphs">P</tspan><tspan x="1137.83" textLength="3.93" lengthAdjust="spacingAndGlyphs">I</tspan><tspan x="1141.64" textLength="3.93" lengthAdjust="spacingAndGlyphs">I</tspan> <tspan x="1150.29" textLength="8.25" lengthAdjust="spacingAndGlyphs">n</tspan></text>
<text y="165.56" font-size="14.58"><tspan x="1091.34" textLength="8.20" lengthAdjust="spacingAndGlyphs">S</tspan><tspan x="1100.12" textLength="8.28" lengthAdjust="spacingAndGlyphs">e</tspan><tspan x="1108.65" textLength="6.93" lengthAdjust="spacingAndGlyphs">c</tspan><tspan x="1116.30" textLength="4.62" lengthAdjust="spacingAndGlyphs">/</tspan><tspan x="1120.79" textLength="8.20" lengthAdjust="spacingAndGlyphs">S</tspan><tspan x="1129.81" textLength="8.12" lengthAdjust="spacingAndGlyphs">P</tspan><tspan x="1137.83" textLength="3.93" lengthAdjust="spacingAndGlyphs">I</tspan><tspan x="1141.64" textLength="3.93" lengthAdjust="spacingAndGlyphs">I</tspan> <tspan x="1150.25" textLength="8.30" lengthAdjust="spacingAndGlyphs">h</tspan></text>
<text y="186.50" font-size="14.58"><tspan x="1091.34" textLength="8.20" lengthAdjust="spacingAndGlyphs">S</tspan><tspan x="1100.13" textLength="8.28" lengthAdjust="spacingAndGlyphs">e</tspan><tspan x="1108.66" textLength="6.94" lengthAdjust="spacingAndGlyphs">c</tspan><tspan x="1116.33" textLength="4.62" lengthAdjust="spacingAndGlyphs">/</tspan><tspan x="1120.82" textLength="8.20" lengthAdjust="spacingAndGlyphs">S</tspan><tspan x="1129.85" textLength="8.13" lengthAdjust="spacingAndGlyphs">P</tspan><tspan x="1137.87" textLength="3.93" lengthAdjust="spacingAndGlyphs">I</tspan><tspan x="1141.69" textLength="3.93" lengthAdjust="spacingAndGlyphs">I</tspan> <tspan x="1150.24" textLength="6.94" lengthAdjust="spacingAndGlyphs">c</tspan><tspan x="1157.99" textLength="7.42" lengthAdjust="spacingAndGlyphs">y</tspan><tspan x="1165.92" textLength="6.62" lengthAdjust="spacingAndGlyphs">s</tspan></text>
<text y="207.44" font-size="14.58"><tspan x="1091.37" textLength="9.31" lengthAdjust="spacingAndGlyphs">C</tspan><tspan x="1099.79" textLength="8.25" lengthAdjust="spacingAndGlyphs">S</tspan></text>
</g>
</svg>
</body></html>
